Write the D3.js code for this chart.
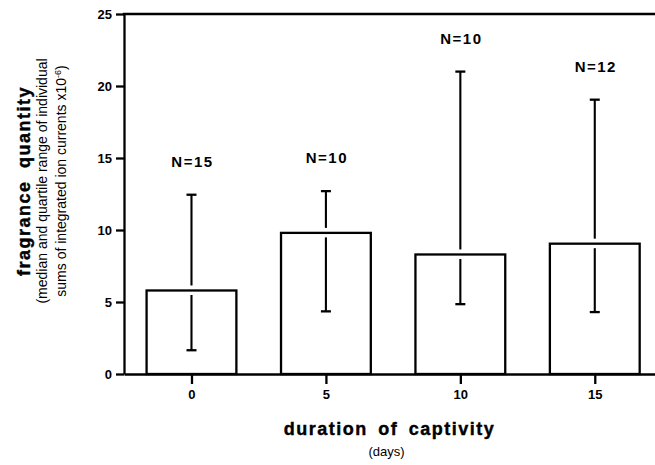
<!DOCTYPE html>
<html>
<head>
<meta charset="utf-8">
<script src="https://cdn.jsdelivr.net/npm/d3@7"></script>
<style>
  body { margin: 0; background: #fff; }
  svg { display: block; }
  .axis path, .axis line { stroke: #000; stroke-width: 2.3; }
  .axis text { font-family: "Liberation Sans", Arial, sans-serif; font-weight: bold; font-size: 13px; fill: #000; }
</style>
</head>
<body>
<script>
// chart data
var days = [0, 5, 10, 15];
var medians = [5.8, 9.8, 8.3, 9.05];
var lowerQuartile = [1.65, 4.35, 4.85, 4.3];
var upperQuartile = [12.45, 12.7, 21.0, 19.05];
var sampleLabels = ["N=15", "N=10", "N=10", "N=12"];

var yTicks = [0, 5, 10, 15, 20, 25];
var xTicks = [0, 5, 10, 15];

var width = 655;
var height = 465;
var halfBar = 1.67;   // half bar width in days

var svg = d3.select("body")
    .append("svg")
    .attr("width", width)
    .attr("height", height);

// scales
var xScale = d3.scaleLinear()
    .domain([-2.51, 17.24])
    .range([124, 655]);

var yScale = d3.scaleLinear()
    .domain([0, 25])
    .range([374, 14]);

// axes
var yAxis = d3.axisLeft(yScale)
    .tickValues(yTicks)
    .tickSize(8)
    .tickSizeOuter(0)
    .tickPadding(4);

var xAxis = d3.axisBottom(xScale)
    .tickValues(xTicks)
    .tickSize(10)
    .tickSizeOuter(0)
    .tickPadding(6);

svg.append("g")
    .attr("class", "axis")
    .attr("transform", "translate(0," + yScale(0) + ")")
    .call(xAxis);

svg.append("g")
    .attr("class", "axis")
    .attr("transform", "translate(" + xScale.range()[0] + ",0)")
    .call(yAxis);

// top frame line
svg.append("line")
    .attr("x1", xScale.range()[0])
    .attr("x2", xScale.range()[1])
    .attr("y1", yScale(25))
    .attr("y2", yScale(25))
    .attr("stroke", "#000")
    .attr("stroke-width", 2.3)
    .attr("stroke-linecap", "square");

// bars
var groups = svg.selectAll(".bar")
    .data(days)
    .enter()
    .append("g")
    .attr("class", "bar");

groups.append("rect")
    .attr("x", function(d) { return xScale(d - halfBar); })
    .attr("width", function(d) { return xScale(d + halfBar) - xScale(d - halfBar); })
    .attr("y", function(d, i) { return yScale(medians[i]); })
    .attr("height", function(d, i) { return yScale(0) - yScale(medians[i]); })
    .attr("fill", "#fff")
    .attr("stroke", "#000")
    .attr("stroke-width", 2.3);

// whiskers, broken around the bar top
groups.append("line")
    .attr("x1", function(d) { return xScale(d); })
    .attr("x2", function(d) { return xScale(d); })
    .attr("y1", function(d, i) { return yScale(upperQuartile[i]); })
    .attr("y2", function(d, i) { return yScale(medians[i]) - 5; })
    .attr("stroke", "#000")
    .attr("stroke-width", 2.1);

groups.append("line")
    .attr("x1", function(d) { return xScale(d); })
    .attr("x2", function(d) { return xScale(d); })
    .attr("y1", function(d, i) { return yScale(medians[i]) + 4.5; })
    .attr("y2", function(d, i) { return yScale(lowerQuartile[i]); })
    .attr("stroke", "#000")
    .attr("stroke-width", 2.1);

// caps
[upperQuartile, lowerQuartile].forEach(function(arr) {
  groups.append("line")
      .attr("x1", function(d) { return xScale(d) - 5; })
      .attr("x2", function(d) { return xScale(d) + 5; })
      .attr("y1", function(d, i) { return yScale(arr[i]); })
      .attr("y2", function(d, i) { return yScale(arr[i]); })
      .attr("stroke", "#000")
      .attr("stroke-width", 2.3);
});

// sample size labels
groups.append("text")
    .attr("x", function(d) { return xScale(d) + 1; })
    .attr("y", function(d, i) { return yScale(upperQuartile[i]) - 28; })
    .attr("text-anchor", "middle")
    .attr("font-family", "Liberation Sans, Arial, sans-serif")
    .attr("font-weight", "bold")
    .attr("font-size", "15px")
    .attr("letter-spacing", "1.5px")
    .text(function(d, i) { return sampleLabels[i]; });

// x axis title
var midX = (xScale.range()[0] + xScale.range()[1]) / 2;
svg.append("text")
    .attr("x", midX)
    .attr("y", 435)
    .attr("text-anchor", "middle")
    .attr("font-family", "Liberation Sans, Arial, sans-serif")
    .attr("font-weight", "bold")
    .attr("font-size", "18px")
    .attr("letter-spacing", "1.5px")
    .attr("word-spacing", "4px")
    .attr("stroke", "#000")
    .attr("stroke-width", 0.4)
    .text("duration of captivity");

svg.append("text")
    .attr("x", midX - 3)
    .attr("y", 456)
    .attr("text-anchor", "middle")
    .attr("font-family", "Liberation Sans, Arial, sans-serif")
    .attr("font-size", "13px")
    .text("(days)");

// y axis title, three lines
var yTitle = svg.append("g")
    .attr("transform", "translate(0,181) rotate(-90)")
    .attr("text-anchor", "middle")
    .attr("font-family", "Liberation Sans, Arial, sans-serif");

yTitle.append("text")
    .attr("x", 0)
    .attr("y", 30)
    .attr("font-weight", "bold")
    .attr("font-size", "18px")
    .attr("letter-spacing", "1.5px")
    .attr("word-spacing", "6px")
    .attr("stroke", "#000")
    .attr("stroke-width", 0.4)
    .text("fragrance quantity");

yTitle.append("text")
    .attr("x", 0)
    .attr("y", 47)
    .attr("font-size", "14px")
    .text("(median and quartile range of individual");

var line2 = yTitle.append("text")
    .attr("x", 0)
    .attr("y", 66)
    .attr("font-size", "14px");
line2.append("tspan").text("sums of integrated ion currents x10");
line2.append("tspan").attr("dy", -5).attr("font-size", "9px").text("-6");
line2.append("tspan").attr("dy", 5).text(")");
</script>
</body>
</html>
